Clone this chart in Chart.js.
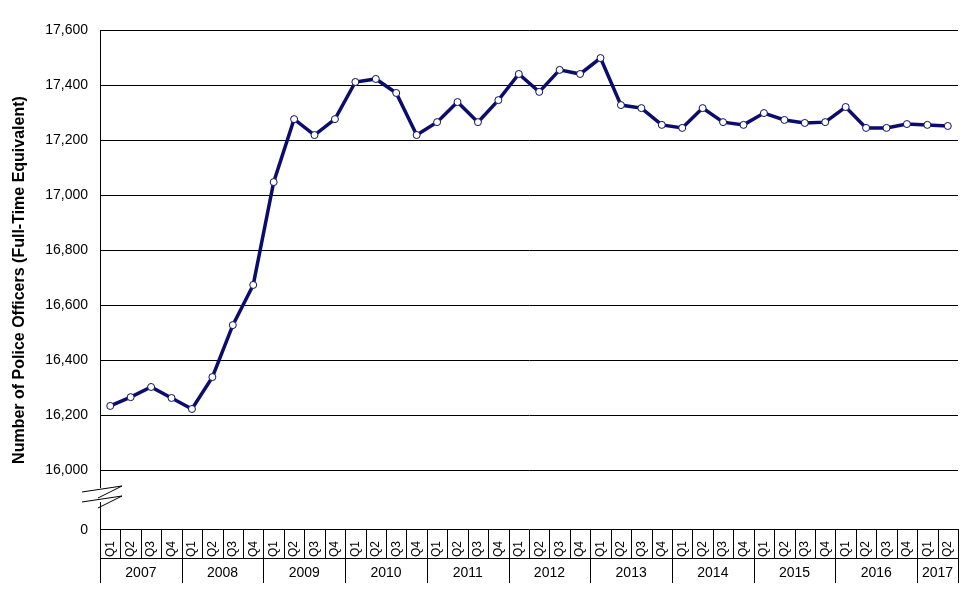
<!DOCTYPE html>
<html><head><meta charset="utf-8">
<script src="https://cdn.jsdelivr.net/npm/chart.js@4/dist/chart.umd.min.js"></script>
<style>body{margin:0;background:#fff}#wrap{width:970px;height:604px}</style>
</head><body><div id="wrap"><canvas id="c"></canvas></div>
<script>
// data
const years = ["2007","2008","2009","2010","2011","2012","2013","2014","2015","2016","2017"];
const quarters = [];
years.forEach((y, i) => { const n = y === "2017" ? 2 : 4; for (let q = 1; q <= n; q++) quarters.push("Q" + q); });
const officers = [
  16233, 16265, 16302, 16262,
  16222, 16338, 16527, 16673,
  17047, 17276, 17218, 17276,
  17411, 17422, 17371, 17218,
  17265, 17338, 17265, 17345,
  17440, 17375, 17455, 17440,
  17498, 17327, 17316, 17255,
  17244, 17316, 17265, 17255,
  17298, 17273, 17262, 17265,
  17320, 17244, 17244, 17258,
  17255, 17251
];
const yBase = 15782;
const yTicks = [16000, 16200, 16400, 16600, 16800, 17000, 17200, 17400, 17600];
const navy = "#0c0c6c";

const tablePlugin = {
  id: "table",
  afterDraw(chart) {
    const ctx = chart.ctx, x = chart.scales.x, a = chart.chartArea;
    const step = x.getPixelForValue(1) - x.getPixelForValue(0);
    const b0 = x.getPixelForValue(0) - step / 2;
    ctx.save();
    ctx.strokeStyle = "#000"; ctx.lineWidth = 1;
    ctx.beginPath();
    for (let i = 0; i <= quarters.length; i++) {
      const bx = Math.round(b0 + i * step) + 0.5;
      const isYear = i === quarters.length || quarters[i] === "Q1";
      ctx.moveTo(bx, a.bottom); ctx.lineTo(bx, a.bottom + (isYear ? 53 : 28));
    }
    ctx.moveTo(a.left, a.bottom + 28.5); ctx.lineTo(b0 + quarters.length * step, a.bottom + 28.5);
    ctx.stroke();
    ctx.fillStyle = "#000"; ctx.font = "14px 'Liberation Sans', Arial"; ctx.textAlign = "center"; ctx.textBaseline = "middle";
    let start = 0;
    years.forEach(y => {
      const n = y === "2017" ? 2 : 4;
      ctx.fillText(y, b0 + (start + n / 2) * step, a.bottom + 43);
      start += n;
    });
    // axis break
    const by = a.bottom - 36;
    ctx.fillStyle = "#fff"; ctx.fillRect(a.left - 3, by - 6, 6, 14);
    ctx.beginPath();
    ctx.moveTo(a.left - 18, by - 2); ctx.lineTo(a.left + 22, by - 8); ctx.lineTo(a.left - 2, by + 4);
    ctx.moveTo(a.left - 18, by + 8); ctx.lineTo(a.left + 22, by + 2); ctx.lineTo(a.left - 2, by + 14);
    ctx.stroke();
    ctx.restore();
  }
};

new Chart(document.getElementById("c"), {
  type: "line",
  data: { labels: quarters, datasets: [{
    data: officers, borderColor: navy, borderWidth: 3.5, tension: 0,
    pointRadius: 3.5, pointBackgroundColor: "#fff", pointBorderColor: navy, pointBorderWidth: 1
  }]},
  options: {
    responsive: true, maintainAspectRatio: false, animation: false,
    layout: { padding: { top: 30, right: 12, bottom: 44, left: 6 } },
    plugins: { legend: { display: false }, tooltip: { enabled: false } },
    scales: {
      x: {
        offset: true,
        grid: { display: false },
        border: { color: "#000" },
        ticks: { color: "#000", font: { size: 12, family: "'Liberation Sans', Arial" }, minRotation: 90, maxRotation: 90, autoSkip: false, padding: 3 }
      },
      y: {
        min: yBase, max: 17600,
        afterBuildTicks: s => { s.ticks = [yBase, ...yTicks].map(v => ({ value: v })); },
        grid: { color: ctx => ctx.tick && ctx.tick.value === yBase ? "rgba(0,0,0,0)" : "#000", drawTicks: false },
        border: { color: "#000" },
        ticks: { color: "#000", padding: 12, font: { size: 14, family: "'Liberation Sans', Arial" },
          callback: v => v === yBase ? "0" : v.toLocaleString("en-US") },
        title: { display: true, text: "Number of Police Officers (Full-Time Equivalent)", color: "#000",
          font: { size: 16, weight: "bold", family: "'Liberation Sans', Arial" } }
      }
    }
  },
  plugins: [tablePlugin]
});
</script></body></html>
